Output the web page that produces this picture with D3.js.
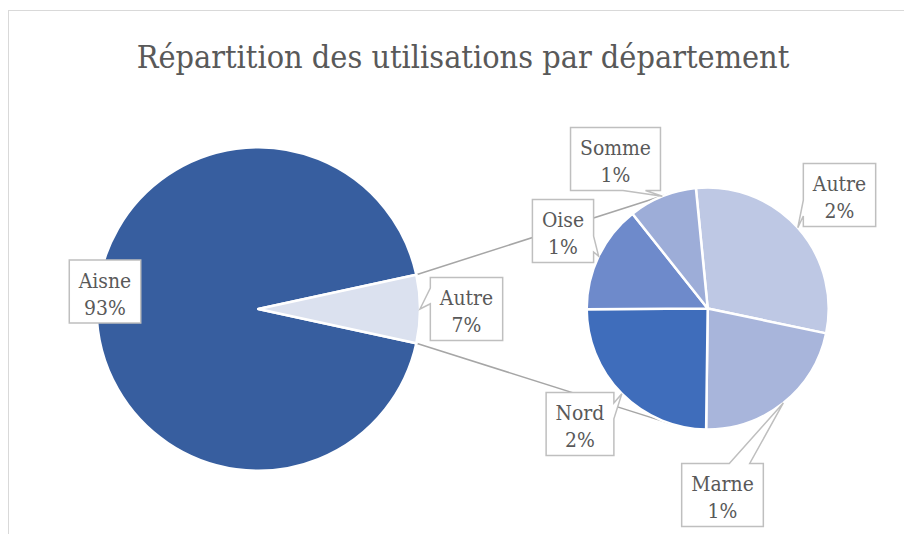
<!DOCTYPE html>
<html><head><meta charset="utf-8">
<script src="https://cdn.jsdelivr.net/npm/d3@7"></script>
<style>body{margin:0;background:#fff}svg{display:block}text{font-family:"DejaVu Serif Condensed","DejaVu Serif",serif;font-stretch:condensed}</style>
</head><body><svg id="c" width="904" height="534"></svg>
<script>
// ---- data ----
const chartTitle = "Répartition des utilisations par département";
const mainCategories = ["Aisne", "Autre"];
const mainValues = [93.2, 6.8];
const subCategories = ["Autre", "Marne", "Nord", "Oise", "Somme"];
const subValues = [2.03, 1.49, 1.68, 0.98, 0.62];

// ---- styles / layout ----
const mainColors = ["#375E9F", "#DBE1EF"];
const subColors = ["#BEC8E4", "#A8B5DB", "#3F6DBB", "#6E8ACB", "#9DADD8"];
const textColor = "#595959";
const c1 = {x: 258.3, y: 309, r: 161.7};
const c2 = {x: 707.7, y: 308.5, r: 121};
const subStartDeg = -5.6;
const mainLabelPos = [[105, 291.5], [466.5, 309]];
const subLabelPos = [[839.5, 195], [722.5, 495], [580, 424], [563, 231], [615.5, 159]];

const svg = d3.select("#c");
svg.append("rect").attr("x", 8.5).attr("y", 10.5).attr("width", 900).attr("height", 600)
  .attr("fill", "none").attr("stroke", "#D9D9D9").attr("stroke-width", 1);

const title = svg.append("text").attr("x", 463).attr("y", 68).attr("text-anchor", "middle")
  .attr("font-size", 37).attr("fill", textColor).text(chartTitle);
// fit title width to the reference width (~653px)
const tw = title.node().getComputedTextLength();
title.attr("font-size", Math.min(38, 37 * 653 / tw));

// label font size: scale so that "Somme" is ~71px wide
const probe = svg.append("text").attr("font-size", 23).text("Somme");
const labelSize = Math.min(24, 23 * 71 / probe.node().getComputedTextLength());
probe.remove();

const total = d3.sum(mainValues);
const otherAngle = 2 * Math.PI * mainValues[1] / total;
const mainStart = Math.PI / 2 + otherAngle / 2;
const mainPie = d3.pie().sort(null).startAngle(mainStart).endAngle(mainStart + 2 * Math.PI);
const mainArcs = mainPie(mainValues);
const subStart = subStartDeg * Math.PI / 180;
const subPie = d3.pie().sort(null).startAngle(subStart).endAngle(subStart + 2 * Math.PI);
const subArcs = subPie(subValues);

const pt = (c, ang, r) => [c.x + r * Math.sin(ang), c.y - r * Math.cos(ang)];

// connector lines (tangents from Autre slice corners to second pie)
const autreArc = mainArcs[1];
function tangent(P, sign) {
  const dx = c2.x - P[0], dy = c2.y - P[1];
  const d = Math.hypot(dx, dy);
  const phi = Math.atan2(dy, dx), alpha = Math.asin(c2.r / d);
  const L = Math.sqrt(d * d - c2.r * c2.r);
  const a = phi + sign * alpha;
  return [P[0] + L * Math.cos(a), P[1] + L * Math.sin(a)];
}
const pTop = pt(c1, autreArc.startAngle, c1.r);
const pBot = pt(c1, autreArc.endAngle, c1.r);
const conn = [[pTop, tangent(pTop, -1)], [pBot, tangent(pBot, 1)]];
svg.append("g").selectAll("line").data(conn).join("line")
  .attr("x1", d => d[0][0]).attr("y1", d => d[0][1])
  .attr("x2", d => d[1][0]).attr("y2", d => d[1][1])
  .attr("stroke", "#A6A6A6").attr("stroke-width", 1.5);

// pies
svg.append("g").attr("transform", `translate(${c1.x},${c1.y})`)
  .selectAll("path").data(mainArcs).join("path")
  .attr("d", d3.arc().innerRadius(0).outerRadius(c1.r))
  .attr("fill", (d, i) => mainColors[i]).attr("stroke", "#fff").attr("stroke-width", 2.5)
  .attr("stroke-linejoin", "round");
svg.append("g").attr("transform", `translate(${c2.x},${c2.y})`)
  .selectAll("path").data(subArcs).join("path")
  .attr("d", d3.arc().innerRadius(0).outerRadius(c2.r))
  .attr("fill", (d, i) => subColors[i]).attr("stroke", "#fff").attr("stroke-width", 2.5)
  .attr("stroke-linejoin", "round");

// callout labels
function callout(l, t, w, h, tx, ty) {
  const r = l + w, b = t + h, hc = l + w / 2, vc = t + h / 2;
  const dx = tx - hc, dy = ty - vc;
  if (tx >= l - 2 && tx <= r + 2 && ty >= t - 2 && ty <= b + 2)
    return `M${l},${t}L${r},${t}L${r},${b}L${l},${b}Z`;
  const dq = dx * h / w;
  const x1 = l + w * (dx > 0 ? 7 : 2) / 12, x2 = l + w * (dx > 0 ? 10 : 5) / 12;
  const y1 = t + h * (dy > 0 ? 7 : 2) / 12, y2 = t + h * (dy > 0 ? 10 : 5) / 12;
  if (Math.abs(dy) > Math.abs(dq)) {
    if (dy < 0) return `M${l},${t}L${x1},${t}L${tx},${ty}L${x2},${t}L${r},${t}L${r},${b}L${l},${b}Z`;
    return `M${l},${t}L${r},${t}L${r},${b}L${x2},${b}L${tx},${ty}L${x1},${b}L${l},${b}Z`;
  }
  if (dx < 0) return `M${l},${t}L${r},${t}L${r},${b}L${l},${b}L${l},${y2}L${tx},${ty}L${l},${y1}Z`;
  return `M${l},${t}L${r},${t}L${r},${y1}L${tx},${ty}L${r},${y2}L${r},${b}L${l},${b}Z`;
}

const fmt = d3.format(".0f");
const labels = [];
mainArcs.forEach((a, i) => {
  const mid = (a.startAngle + a.endAngle) / 2;
  labels.push({name: mainCategories[i], pct: fmt(mainValues[i] / total * 100) + "%",
    pos: mainLabelPos[i], tip: pt(c1, mid, c1.r)});
});
subArcs.forEach((a, i) => {
  const mid = (a.startAngle + a.endAngle) / 2;
  labels.push({name: subCategories[i], pct: fmt(subValues[i]) + "%",
    pos: subLabelPos[i], tip: pt(c2, mid, c2.r)});
});

const lg = svg.append("g");
labels.forEach(L => {
  const g = lg.append("g");
  const box = g.append("path");
  const t1 = g.append("text").attr("x", L.pos[0]).attr("y", L.pos[1] - 4)
    .attr("text-anchor", "middle").attr("font-size", labelSize)
    .attr("fill", textColor).text(L.name);
  const t2 = g.append("text").attr("x", L.pos[0]).attr("y", L.pos[1] + 23)
    .attr("text-anchor", "middle").attr("font-size", labelSize)
    .attr("fill", textColor).text(L.pct);
  const w = Math.max(t1.node().getComputedTextLength(), t2.node().getComputedTextLength()) + 19;
  const h = 63;
  box.attr("d", callout(L.pos[0] - w / 2, L.pos[1] - h / 2, w, h, L.tip[0], L.tip[1]))
    .attr("fill", "#fff").attr("stroke", "#BFBFBF").attr("stroke-width", 1.5)
    .attr("stroke-linejoin", "miter");
});
</script>
</body></html>
